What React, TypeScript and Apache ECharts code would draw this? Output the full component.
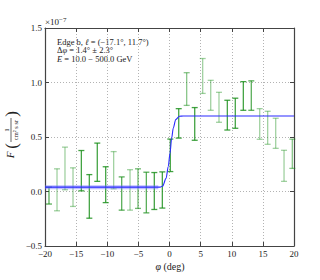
import React, { useEffect, useRef } from "react";
import * as echarts from "echarts";

const phiCenters = [-19.36, -18.07, -16.79, -15.5, -14.16, -12.88, -11.6, -10.25, -8.97, -7.68, -6.34, -5.06, -3.72, -2.44, -1.15, 0.13, 1.48, 2.76, 4.05, 5.33, 6.62, 7.95, 9.29, 10.57, 11.86, 13.14, 14.49, 15.77, 17.06, 18.4, 19.73];
const fluxLow = [-0.115, -0.177, 0.016, -0.137, 0.006, -0.245, 0.093, -0.102, 0.025, -0.171, -0.171, -0.155, -0.196, -0.165, -0.152, 0.183, 0.49, 0.79, 0.47, 0.9, 0.745, 0.635, 0.564, 0.58, 0.745, 0.745, 0.479, 0.433, 0.396, 0.093, 0.212];
const fluxHigh = [0.04, 0.208, 0.407, 0.217, 0.376, 0.155, 0.444, 0.227, 0.366, 0.134, 0.2, 0.208, 0.177, 0.174, 0.18, 0.481, 0.76, 1.09, 0.77, 1.22, 1.02, 0.91, 0.837, 0.856, 1.008, 1.015, 0.76, 0.736, 0.672, 0.378, 0.48];
const barAlpha = [0.7, 0.4, 0.4, 0.4, 0.8, 0.8, 0.8, 0.8, 0.4, 0.7, 0.4, 0.6, 0.7, 0.8, 0.8, 0.8, 0.8, 0.5, 0.8, 0.4, 0.4, 0.4, 0.8, 0.8, 0.8, 0.7, 0.4, 0.4, 0.4, 0.4, 0.5];

const fitX = [-20, -1.5, -1.1, -0.55, -0.2, 0.08, 0.35, 0.6, 1.0, 1.6, 2.2, 20];
const fitY = [0.04, 0.04, 0.05, 0.12, 0.23, 0.35, 0.49, 0.58, 0.66, 0.69, 0.693, 0.693];
const bandX = [-20, -1.8];
const bandY = [0.04, 0.04];

const xTicks = [-20, 20, 5];
const yTicks = [-0.5, 1.5, 0.5];

const infoLines = [
  "Edge b, {i|ℓ} = (−17.1°, 11.7°)",
  "Δ{i|φ} = 1.4° ± 2.3°",
  "{i|E} = 10.0 − 500.0 GeV",
];

const SERIF = "Liberation Serif";
const minus = (s: string) => s.replace("-", "−");

export default function App() {
  const ref = useRef<HTMLDivElement>(null);
  useEffect(() => {
    if (!ref.current) return;
    const chart = echarts.init(ref.current, null, { renderer: "svg" });
    const barData = phiCenters.map((x, i) => [x, fluxLow[i], fluxHigh[i], barAlpha[i]]);
    const spine = { show: true, onZero: false, lineStyle: { color: "#444", width: 1.2 } };
    const tickIn = { show: true, inside: true, length: 4, lineStyle: { color: "#444", width: 1 } };
    const grid = { show: true, lineStyle: { color: "#aaa", type: [1, 2] as any, width: 0.9 } };
    const lbl = { color: "#222", fontFamily: SERIF, fontSize: 9 };
    chart.setOption({
      animation: false,
      backgroundColor: "#fff",
      grid: { left: 45, right: 26, top: 28, bottom: 34, containLabel: false },
      xAxis: [
        {
          type: "value", min: xTicks[0], max: xTicks[1], interval: xTicks[2],
          axisLine: spine, axisTick: tickIn, splitLine: grid,
          axisLabel: { ...lbl, margin: 3, formatter: (v: number) => minus(String(v)) },
        },
        {
          type: "value", position: "top", min: xTicks[0], max: xTicks[1], interval: xTicks[2],
          axisLine: spine, axisTick: tickIn, splitLine: { show: false }, axisLabel: { show: false },
        },
      ],
      yAxis: [
        {
          type: "value", min: yTicks[0], max: yTicks[1], interval: yTicks[2],
          axisLine: spine, axisTick: tickIn, splitLine: grid,
          axisLabel: { ...lbl, margin: 3, formatter: (v: number) => minus(v.toFixed(1)) },
        },
        {
          type: "value", position: "right", min: yTicks[0], max: yTicks[1], interval: yTicks[2],
          axisLine: spine, axisTick: tickIn, splitLine: { show: false }, axisLabel: { show: false },
        },
      ],
      series: [
        {
          type: "custom",
          data: barData,
          encode: { x: 0, y: [1, 2] },
          renderItem: (params: any, api: any) => {
            const x = api.value(0), lo = api.value(1), hi = api.value(2), a = api.value(3);
            const p1 = api.coord([x, lo]);
            const p2 = api.coord([x, hi]);
            const style = { stroke: `rgba(20,140,20,${a})`, lineWidth: 1.3 };
            return {
              type: "group",
              children: [
                { type: "line", shape: { x1: p1[0], y1: p1[1], x2: p2[0], y2: p2[1] }, style },
                { type: "line", shape: { x1: p1[0] - 3, y1: p1[1], x2: p1[0] + 3, y2: p1[1] }, style },
                { type: "line", shape: { x1: p2[0] - 3, y1: p2[1], x2: p2[0] + 3, y2: p2[1] }, style },
              ],
            };
          },
        },
        {
          type: "line",
          data: bandX.map((x, i) => [x, bandY[i]]),
          showSymbol: false,
          lineStyle: { color: "rgba(110,110,255,0.45)", width: 4 },
        },
        {
          type: "line",
          data: fitX.map((x, i) => [x, fitY[i]]),
          showSymbol: false,
          smooth: 0.3,
          smoothMonotone: "x",
          lineStyle: { color: "#2b2bff", width: 1.1 },
        },
      ],
      graphic: [
        {
          type: "text", left: 45, top: 16,
          style: {
            text: "×10{s|−7}", fontFamily: SERIF, fontSize: 9, fill: "#222",
            rich: { s: { fontSize: 7, verticalAlign: "top", padding: [0, 0, 5, 0], fontFamily: SERIF, fill: "#222" } },
          },
        },
        ...infoLines.map((t, i) => ({
          type: "text", x: 57, y: 37 + i * 8.7,
          style: {
            text: t, fontFamily: SERIF, fontSize: 8.5, fill: "#222",
            rich: { i: { fontStyle: "italic", fontFamily: SERIF, fontSize: 8.5, fill: "#222" } },
          },
        })),
        {
          type: "text", x: 170, y: 266,
          style: {
            text: "{i|φ} (deg)", fontFamily: SERIF, fontSize: 10, fill: "#222", align: "center", verticalAlign: "middle",
            rich: { i: { fontStyle: "italic", fontFamily: SERIF, fontSize: 10, fill: "#222" } },
          },
        },
        {
          type: "group", x: 11, y: 133, rotation: Math.PI / 2,
          children: [
            { type: "text", x: -22, y: -1, style: { text: "F", fontFamily: SERIF, fontStyle: "italic", fontSize: 11, fill: "#222", align: "center", verticalAlign: "middle" } },
            { type: "text", x: -13, y: 0, style: { text: "(", fontFamily: SERIF, fontSize: 17, fill: "#222", align: "center", verticalAlign: "middle" } },
            { type: "text", x: 3, y: -4, style: { text: "1", fontFamily: SERIF, fontSize: 7, fill: "#222", align: "center", verticalAlign: "middle" } },
            { type: "line", shape: { x1: -9, y1: 0, x2: 15, y2: 0 }, style: { stroke: "#222", lineWidth: 0.7 } },
            { type: "text", x: 3, y: 4.5, style: { text: "cm² s sr", fontFamily: SERIF, fontSize: 6.5, fill: "#222", align: "center", verticalAlign: "middle" } },
            { type: "text", x: 19, y: 0, style: { text: ")", fontFamily: SERIF, fontSize: 17, fill: "#222", align: "center", verticalAlign: "middle" } },
          ],
        },
      ],
    });
    return () => chart.dispose();
  }, []);
  return <div ref={ref} style={{ position: "fixed", left: 0, top: 0, width: 320, height: 280 }} />;
}
